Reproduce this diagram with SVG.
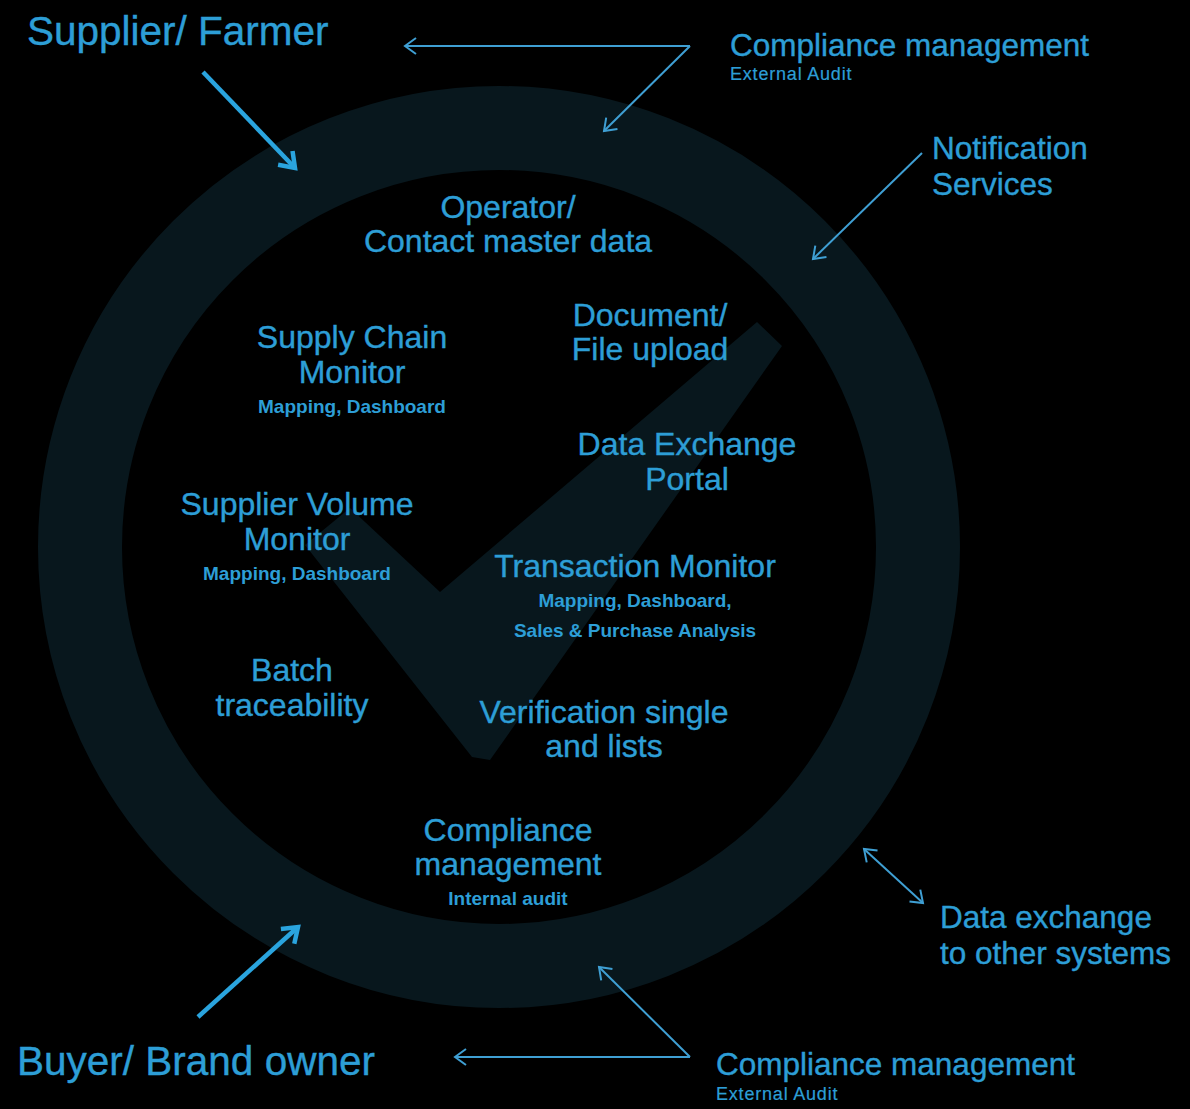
<svg xmlns="http://www.w3.org/2000/svg" width="1190" height="1109" viewBox="0 0 1190 1109">
<style>
text{font-family:"Liberation Sans",Arial,sans-serif;fill:#2d9ed6;stroke:#2d9ed6;stroke-width:0.4}
.big{font-size:40.5px}
.lbl{font-size:32px}
.mid{font-size:31.5px}
.sub{font-size:19px;font-weight:bold;stroke-width:0}
.ext{font-size:18px;letter-spacing:0.8px;stroke-width:0.2}
.thin{fill:none;stroke:#3f9fd3;stroke-width:2}
.thick{fill:none;stroke:#2aa4de;stroke-width:4.5}
</style>
<defs>
<marker id="ah" markerUnits="userSpaceOnUse" markerWidth="30" markerHeight="30" viewBox="-15 -15 30 30" refX="0" refY="0" orient="auto-start-reverse">
<path d="M-11,-8 L0,0 L-11,8" fill="none" stroke="#3f9fd3" stroke-width="2"/>
</marker>
<marker id="ahb" markerUnits="userSpaceOnUse" markerWidth="40" markerHeight="40" viewBox="-20 -20 40 40" refX="0" refY="0" orient="auto">
<path d="M-14,-10 L0,0 L-14,10" fill="none" stroke="#2aa4de" stroke-width="4.5"/>
</marker>
</defs>
<rect width="1190" height="1109" fill="#000"/>
<g id="background">
<circle cx="499" cy="547" r="419" fill="none" stroke="#08171d" stroke-width="84"/>
<polygon points="757,322 782,346 490,760 472,757 305,545 350,508 440,592" fill="#08171d"/>
</g>
<g id="connectors">
<line class="thick" x1="203" y1="72" x2="295" y2="168" marker-end="url(#ahb)"/>
<line class="thick" x1="198" y1="1017" x2="298" y2="927" marker-end="url(#ahb)"/>
<line class="thin" x1="690" y1="46" x2="405" y2="46" marker-end="url(#ah)"/>
<line class="thin" x1="690" y1="46" x2="604" y2="131" marker-end="url(#ah)"/>
<line class="thin" x1="922" y1="153" x2="813" y2="259" marker-end="url(#ah)"/>
<line class="thin" x1="864" y1="849" x2="923" y2="903" marker-start="url(#ah)" marker-end="url(#ah)"/>
<line class="thin" x1="690" y1="1057" x2="455" y2="1057" marker-end="url(#ah)"/>
<line class="thin" x1="690" y1="1057" x2="599" y2="967" marker-end="url(#ah)"/>
</g>
<g id="supplier"><text class="big" x="27" y="45">Supplier/ Farmer</text></g>
<g id="buyer"><text class="big" x="17" y="1075">Buyer/ Brand owner</text></g>
<g id="compliance-top"><text class="mid" x="730" y="56">Compliance management</text><text class="ext" x="730" y="80">External Audit</text></g>
<g id="notification"><text class="mid" x="932" y="159">Notification</text><text class="mid" x="932" y="195">Services</text></g>
<g id="operator" text-anchor="middle"><text class="lbl" x="508" y="218">Operator/</text><text class="lbl" x="508" y="252">Contact master data</text></g>
<g id="supply-chain" text-anchor="middle"><text class="lbl" x="352" y="348">Supply Chain</text><text class="lbl" x="352" y="383">Monitor</text><text class="sub" x="352" y="413">Mapping, Dashboard</text></g>
<g id="document" text-anchor="middle"><text class="lbl" x="650" y="326">Document/</text><text class="lbl" x="650" y="360">File upload</text></g>
<g id="data-exchange-portal" text-anchor="middle"><text class="lbl" x="687" y="455">Data Exchange</text><text class="lbl" x="687" y="490">Portal</text></g>
<g id="supplier-volume" text-anchor="middle"><text class="lbl" x="297" y="515">Supplier Volume</text><text class="lbl" x="297" y="550">Monitor</text><text class="sub" x="297" y="580">Mapping, Dashboard</text></g>
<g id="transaction" text-anchor="middle"><text class="lbl" x="635" y="577">Transaction Monitor</text><text class="sub" x="635" y="607">Mapping, Dashboard,</text><text class="sub" x="635" y="637">Sales &amp; Purchase Analysis</text></g>
<g id="batch" text-anchor="middle"><text class="lbl" x="292" y="681">Batch</text><text class="lbl" x="292" y="716">traceability</text></g>
<g id="verification" text-anchor="middle"><text class="lbl" x="604" y="723">Verification single</text><text class="lbl" x="604" y="757">and lists</text></g>
<g id="compliance-internal" text-anchor="middle"><text class="lbl" x="508" y="841">Compliance</text><text class="lbl" x="508" y="875">management</text><text class="sub" x="508" y="905">Internal audit</text></g>
<g id="data-exchange-systems"><text class="mid" x="940" y="928">Data exchange</text><text class="mid" x="940" y="964">to other systems</text></g>
<g id="compliance-bottom"><text class="mid" x="716" y="1075">Compliance management</text><text class="ext" x="716" y="1100">External Audit</text></g>
</svg>
